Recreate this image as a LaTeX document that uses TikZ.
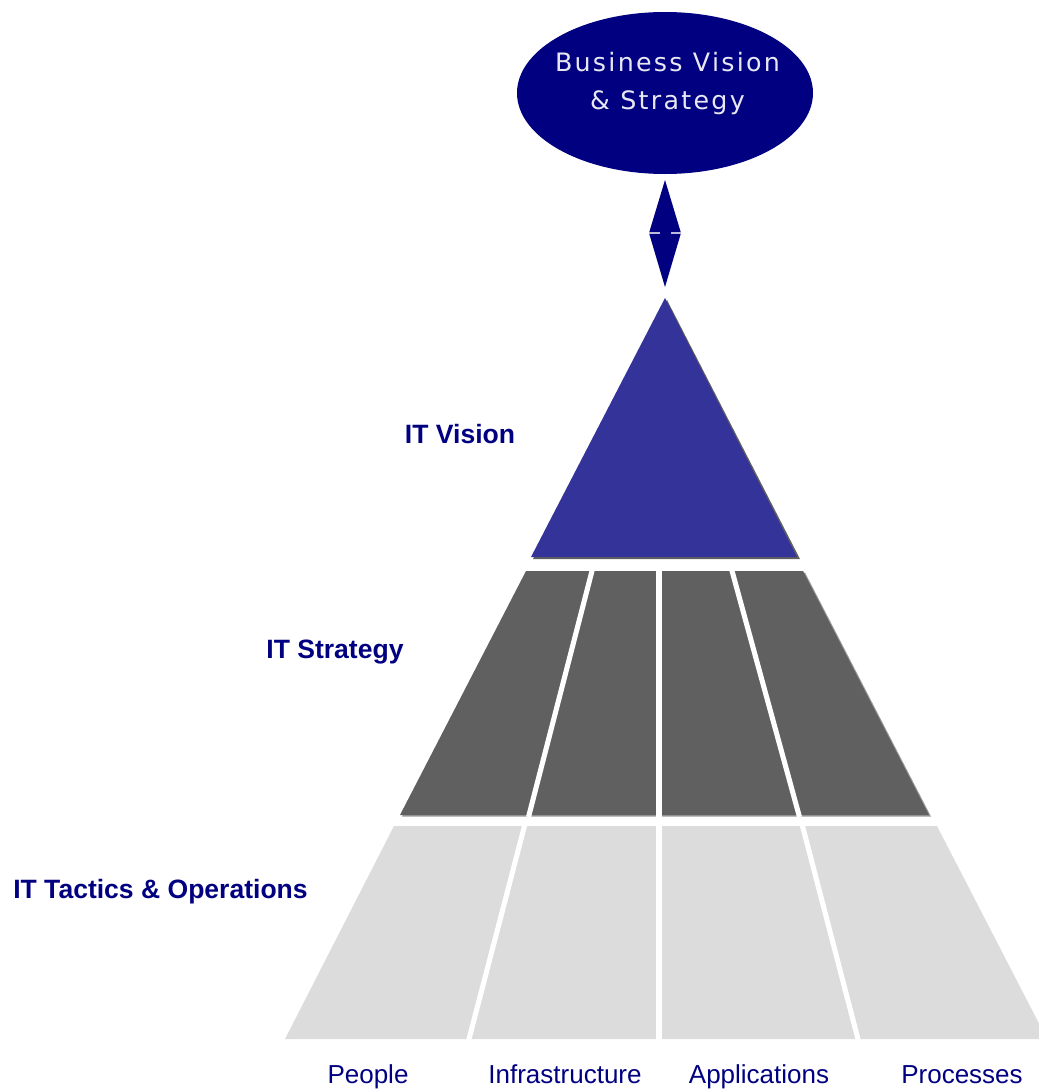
\documentclass[tikz,border=0pt]{standalone}
\usepackage{fontspec}
\setmainfont{Liberation Sans}
\newfontfamily\ovalfont[LetterSpace=9]{DejaVu Sans}
\usetikzlibrary{shapes.geometric}

\definecolor{navy}{HTML}{000080}
\definecolor{visionblue}{HTML}{333399}
\definecolor{strategygrey}{HTML}{606060}
\definecolor{tacticsgrey}{HTML}{DCDCDC}
\definecolor{ovaltext}{HTML}{E8E8F2}
\definecolor{shadowgrey}{HTML}{9A9A9A}

\tikzset{
  levellabel/.style={anchor=base, text=navy, font=\fontsize{19.9}{23}\selectfont\bfseries, inner sep=0pt},
  arealabel/.style={anchor=base, text=navy, font=\fontsize{19.5}{23}\selectfont, inner sep=0pt},
  ovallabel/.style={anchor=base, text=ovaltext, inner sep=0pt, font=\ovalfont\fontsize{19}{28.5}\selectfont},
  gap/.style={draw=white, line width=3.8pt},
}

\begin{document}
\begin{tikzpicture}[x=0.75pt, y=-0.75pt]
\useasboundingbox (0,0) rectangle (1039,1089);
\clip (0,0) rectangle (1039,1089);

% oval at the top
\node (bvs) [ellipse, fill=navy, minimum width=222pt, minimum height=121.5pt, inner sep=0pt] at (665,93) {};
\node (bvsline1) [ovallabel] at (667.5,71) {Business Vision};
\node (bvsline2) [ovallabel] at (667.5,109) {\&~Strategy};

% double arrow between oval and pyramid
\coordinate (atop) at (665,180);
\coordinate (abot) at (665,287);
\coordinate (aleft) at (649,233);
\coordinate (aright) at (681,233);
\fill[navy] (atop) -- (aright) -- (aleft) -- cycle;
\fill[navy] (aleft) -- (aright) -- (abot) -- cycle;
\draw[ovaltext!80!navy, line width=1.4pt] (aleft) -- (660,233);
\draw[ovaltext!80!navy, line width=1.4pt] (671,233) -- (aright);

% IT vision triangle
\fill[strategygrey] (667,300) -- (800,559) -- (533,559) -- cycle;
\fill[visionblue] (665,298) -- (797,557) -- (531,557) -- cycle;

% IT strategy band
\fill[shadowgrey] (528,572.5) -- (805,572.5) -- (931,816.5) -- (402,816.5) -- cycle;
\fill[strategygrey] (526,571) -- (803,571) -- (929,815) -- (400,815) -- cycle;
\draw[gap] (592.5,569) -- (528.5,817);
\draw[gap] (659,569) -- (659,817);
\draw[gap] (731.5,569) -- (799.5,817);

% IT tactics band
\fill[tacticsgrey] (394,826) -- (937,826) -- (1047,1039) -- (285,1039) -- cycle;
\draw[gap] (525,824) -- (468.5,1041);
\draw[gap] (659,824) -- (659,1041);
\draw[gap] (802,824) -- (858.5,1041);

% level labels
\node (lvision) [levellabel] at (460,443) {IT Vision};
\node (lstrategy) [levellabel] at (335,658) {IT Strategy};
\node (ltactics) [levellabel] at (160.5,898) {IT Tactics \& Operations};

% area labels
\node (people) [arealabel] at (368,1083) {People};
\node (infra) [arealabel] at (565,1083) {Infrastructure};
\node (apps) [arealabel] at (759,1083) {Applications};
\node (procs) [arealabel] at (962,1083) {Processes};
\end{tikzpicture}
\end{document}
